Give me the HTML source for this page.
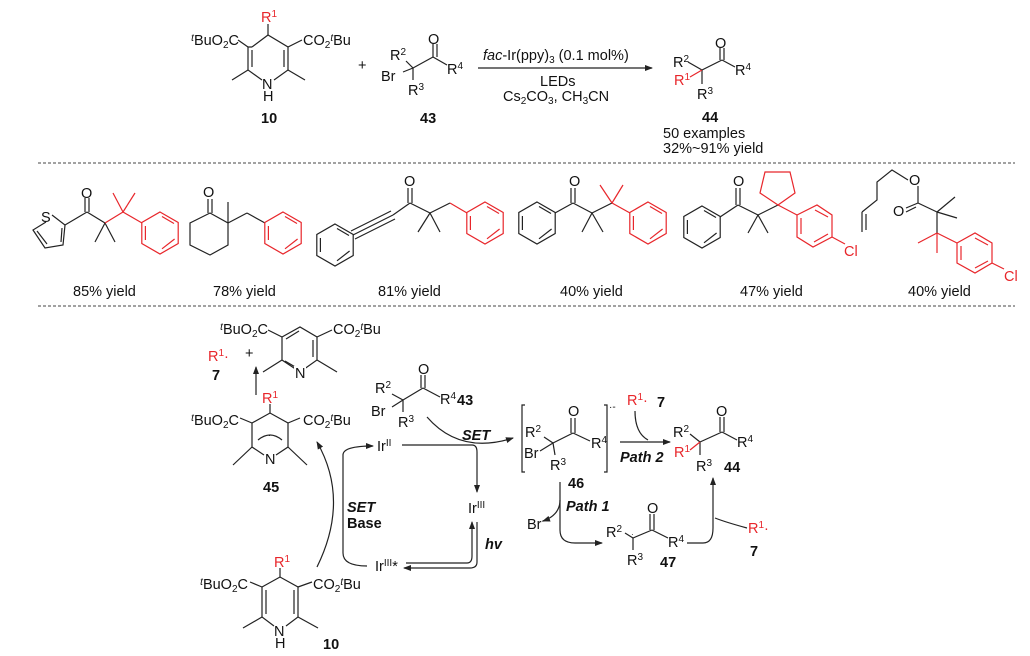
<!DOCTYPE html>
<html><head><meta charset="utf-8"><style>
html,body{margin:0;padding:0;background:#fff;}
svg{display:block;font-family:"Liberation Sans",sans-serif;}
text{font-size:14.5px;fill:#111;}
.r{fill:#e8262b;}
.b{font-weight:bold;}
.bi{font-weight:bold;font-style:italic;}
.k{stroke:#222;stroke-width:1.2;fill:none;}
.rd{stroke:#e8262b;stroke-width:1.2;fill:none;}
.s{font-size:10px;}
</style></head><body>
<svg width="1030" height="656" viewBox="0 0 1030 656">
<defs>
<marker id="ah" markerWidth="8" markerHeight="8" refX="7" refY="4" orient="auto" markerUnits="userSpaceOnUse"><path d="M0,1 L8,4 L0,7 z" fill="#222"/></marker>
<g id="bz"><polygon points="0,-21 18.2,-10.5 18.2,10.5 0,21 -18.2,10.5 -18.2,-10.5"/><line x1="2" y1="-16.5" x2="14" y2="-9.5"/><line x1="14.6" y1="6" x2="2" y2="15.8"/><line x1="-14.6" y1="7" x2="-14.6" y2="-7"/></g>
</defs>

<!-- ===== TOP REACTION ===== -->
<g class="k">
<polyline points="252,47 268,35 288,47 288,70 274,80"/>
<polyline points="252,47 248,47 248,70 262,80"/>
<line x1="284" y1="50" x2="284" y2="67"/><line x1="252" y1="50" x2="252" y2="67"/>
<line x1="268" y1="35" x2="268" y2="24"/>
<line x1="248" y1="70" x2="232" y2="80"/><line x1="288" y1="70" x2="305" y2="80"/>
<line x1="248" y1="47" x2="238" y2="40"/><line x1="288" y1="47" x2="302" y2="40"/>
</g>
<text x="239" y="45" text-anchor="end"><tspan class="s" dy="-4" font-style="italic">t</tspan><tspan dy="4">BuO</tspan><tspan class="s" dy="3">2</tspan><tspan dy="-3">C</tspan></text>
<text x="303" y="45">CO<tspan class="s" dy="3">2</tspan><tspan class="s" dy="-7" font-style="italic">t</tspan><tspan dy="4">Bu</tspan></text>
<text x="261" y="22" class="r">R<tspan class="s" dy="-5">1</tspan></text>
<text x="262" y="89">N</text><text x="263" y="101">H</text>
<text x="261" y="123" class="b">10</text>
<text x="358" y="70">+</text>
<g class="k"><line x1="403" y1="72" x2="413" y2="68"/><line x1="413" y1="68" x2="433" y2="57"/><line x1="433" y1="57" x2="447" y2="65"/><line x1="433" y1="57" x2="433" y2="44"/><line x1="437" y1="57" x2="437" y2="44"/><line x1="413" y1="68" x2="413" y2="80"/><line x1="406" y1="61" x2="413" y2="68"/></g>
<text x="428" y="44">O</text>
<text x="390" y="60">R<tspan class="s" dy="-5">2</tspan></text>
<text x="381" y="81">Br</text>
<text x="408" y="95">R<tspan class="s" dy="-5">3</tspan></text>
<text x="447" y="74">R<tspan class="s" dy="-5">4</tspan></text>
<text x="420" y="123" class="b">43</text>
<line x1="478" y1="68" x2="652" y2="68" class="k" marker-end="url(#ah)"/>
<text x="483" y="60"><tspan font-style="italic">fac</tspan>-Ir(ppy)<tspan class="s" dy="3">3</tspan><tspan dy="-3"> (0.1 mol%)</tspan></text>
<text x="540" y="86">LEDs</text>
<text x="503" y="101">Cs<tspan class="s" dy="3">2</tspan><tspan dy="-3">CO</tspan><tspan class="s" dy="3">3</tspan><tspan dy="-3">, CH</tspan><tspan class="s" dy="3">3</tspan><tspan dy="-3">CN</tspan></text>
<g class="k"><line x1="688" y1="62" x2="702" y2="70"/><line x1="702" y1="70" x2="722" y2="60"/><line x1="722" y1="60" x2="735" y2="67"/><line x1="720" y1="60" x2="720" y2="48"/><line x1="724" y1="60" x2="724" y2="48"/><line x1="702" y1="70" x2="702" y2="84"/></g>
<line x1="690" y1="77" x2="702" y2="70" class="rd"/>
<text x="715" y="48">O</text>
<text x="673" y="67">R<tspan class="s" dy="-5">2</tspan></text>
<text x="674" y="85" class="r">R<tspan class="s" dy="-5">1</tspan></text>
<text x="697" y="99">R<tspan class="s" dy="-5">3</tspan></text>
<text x="735" y="75">R<tspan class="s" dy="-5">4</tspan></text>
<text x="702" y="122" class="b">44</text>
<text x="663" y="138">50 examples</text>
<text x="663" y="153">32%~91% yield</text>

<line x1="38" y1="163" x2="1015" y2="163" stroke="#444" stroke-dasharray="3,2"/>
<line x1="38" y1="306" x2="1015" y2="306" stroke="#444" stroke-dasharray="3,2"/>

<!-- ===== EXAMPLES ===== -->
<g class="k"><polyline points="46,222 33,230 45,248 63,245 65,225 52,215"/><line x1="37" y1="231" x2="47" y2="244"/><line x1="61" y1="242" x2="62" y2="228"/><line x1="65" y1="225" x2="87" y2="212"/><line x1="87" y1="212" x2="105" y2="223"/><line x1="85" y1="212" x2="85" y2="198"/><line x1="89" y1="212" x2="89" y2="198"/><line x1="105" y1="223" x2="95" y2="242"/><line x1="105" y1="223" x2="115" y2="242"/></g>
<text x="41" y="222">S</text><text x="81" y="198">O</text>
<g class="rd"><line x1="105" y1="223" x2="123" y2="212"/><line x1="123" y1="212" x2="113" y2="193"/><line x1="123" y1="212" x2="135" y2="193"/><line x1="123" y1="212" x2="142" y2="223"/><use href="#bz" x="160" y="233"/></g>
<text x="73" y="296">85% yield</text>
<g class="k"><polygon points="210,213 228,223 228,245 210,255 190,245 190,223"/><line x1="208" y1="213" x2="208" y2="199"/><line x1="212" y1="213" x2="212" y2="199"/><line x1="228" y1="223" x2="228" y2="202"/><line x1="228" y1="223" x2="247" y2="213"/><line x1="247" y1="213" x2="265" y2="223"/></g>
<text x="203" y="197">O</text>
<g class="rd"><use href="#bz" x="283" y="233"/></g>
<text x="213" y="296">78% yield</text>
<g class="k"><use href="#bz" x="335" y="245"/><line x1="353" y1="235" x2="393" y2="215"/><line x1="351" y1="231" x2="391" y2="211"/><line x1="355" y1="239" x2="395" y2="219"/><line x1="393" y1="215" x2="410" y2="203"/><line x1="408" y1="203" x2="408" y2="188"/><line x1="412" y1="203" x2="412" y2="188"/><line x1="410" y1="203" x2="430" y2="213"/><line x1="430" y1="213" x2="418" y2="232"/><line x1="430" y1="213" x2="440" y2="232"/><line x1="430" y1="213" x2="450" y2="203"/></g>
<text x="404" y="186">O</text>
<g class="rd"><line x1="450" y1="203" x2="467" y2="213"/><use href="#bz" x="485" y="223"/></g>
<text x="378" y="296">81% yield</text>
<g class="k"><use href="#bz" x="537" y="223"/><line x1="555" y1="213" x2="573" y2="203"/><line x1="571" y1="203" x2="571" y2="188"/><line x1="575" y1="203" x2="575" y2="188"/><line x1="573" y1="203" x2="592" y2="213"/><line x1="592" y1="213" x2="582" y2="232"/><line x1="592" y1="213" x2="603" y2="232"/><line x1="592" y1="213" x2="612" y2="203"/></g>
<text x="569" y="186">O</text>
<g class="rd"><line x1="612" y1="203" x2="600" y2="185"/><line x1="612" y1="203" x2="623" y2="185"/><line x1="612" y1="203" x2="630" y2="213"/><use href="#bz" x="648" y="223"/></g>
<text x="560" y="296">40% yield</text>
<g class="k"><use href="#bz" x="702" y="227"/><line x1="720" y1="217" x2="738" y2="205"/><line x1="736" y1="205" x2="736" y2="188"/><line x1="740" y1="205" x2="740" y2="188"/><line x1="738" y1="205" x2="758" y2="215"/><line x1="758" y1="215" x2="748" y2="233"/><line x1="758" y1="215" x2="768" y2="233"/><line x1="758" y1="215" x2="778" y2="205"/></g>
<text x="733" y="186">O</text>
<g class="rd"><polygon points="778,205 760,193 765,172 790,172 795,193"/><line x1="778" y1="205" x2="797" y2="215"/><polygon points="797,215 817,205 832,215 832,237 813,247 797,237"/><line x1="815" y1="210" x2="828" y2="217"/><line x1="828" y1="234" x2="814" y2="242"/><line x1="801" y1="234" x2="801" y2="218"/><line x1="832" y1="237" x2="845" y2="244"/></g>
<text x="844" y="256" class="r">Cl</text>
<text x="740" y="296">47% yield</text>
<g class="k"><line x1="862" y1="232" x2="862" y2="212"/><line x1="866" y1="230" x2="866" y2="214"/><polyline points="862,212 877,200 877,182 892,170 908,180"/><line x1="918" y1="186" x2="918" y2="203"/><line x1="918" y1="203" x2="906" y2="208"/><line x1="916" y1="207" x2="906" y2="212"/><line x1="918" y1="203" x2="937" y2="212"/><line x1="937" y1="212" x2="955" y2="197"/><line x1="937" y1="212" x2="957" y2="218"/><line x1="937" y1="212" x2="937" y2="233"/></g>
<text x="909" y="185">O</text><text x="893" y="216">O</text>
<g class="rd"><line x1="937" y1="233" x2="918" y2="243"/><line x1="937" y1="233" x2="937" y2="253"/><line x1="937" y1="233" x2="957" y2="243"/><polygon points="957,243 975,233 992,243 992,263 975,273 957,263"/><line x1="975" y1="238" x2="988" y2="245"/><line x1="988" y1="261" x2="975" y2="268"/><line x1="961" y1="260" x2="961" y2="246"/><line x1="992" y1="263" x2="1004" y2="269"/></g>
<text x="1004" y="281" class="r">Cl</text>
<text x="908" y="296">40% yield</text>

<!-- ===== MECHANISM ===== -->
<g class="k"><polygon points="282,337 300,327 317,337 317,360 300,372 282,360"/><line x1="286" y1="339" x2="299" y2="331"/><line x1="313" y1="340" x2="313" y2="357"/><line x1="285" y1="361" x2="297" y2="368"/><line x1="282" y1="360" x2="263" y2="372"/><line x1="317" y1="360" x2="337" y2="372"/><line x1="282" y1="337" x2="268" y2="330"/><line x1="317" y1="337" x2="332" y2="330"/></g>
<rect x="294" y="366" width="12" height="12" fill="#fff"/>
<text x="295" y="378">N</text>
<text x="268" y="334" text-anchor="end"><tspan class="s" dy="-4" font-style="italic">t</tspan><tspan dy="4">BuO</tspan><tspan class="s" dy="3">2</tspan><tspan dy="-3">C</tspan></text>
<text x="333" y="334">CO<tspan class="s" dy="3">2</tspan><tspan class="s" dy="-7" font-style="italic">t</tspan><tspan dy="4">Bu</tspan></text>
<text x="208" y="361" class="r">R<tspan class="s" dy="-5">1</tspan><tspan dy="5">·</tspan></text>
<text x="245" y="358">+</text>
<text x="212" y="380" class="b">7</text>
<line x1="256" y1="395" x2="256" y2="367" class="k" marker-end="url(#ah)"/>
<g class="k"><polyline points="252,423 270,413 288,423 288,447 276,455"/><polyline points="252,423 252,447 264,455"/><path d="M258,440 Q270,430 282,440"/><line x1="270" y1="413" x2="270" y2="404"/><line x1="252" y1="447" x2="233" y2="465"/><line x1="288" y1="447" x2="307" y2="465"/><line x1="252" y1="423" x2="240" y2="418"/><line x1="288" y1="423" x2="300" y2="418"/></g>
<text x="268" y="438" style="font-size:9px">·</text>
<text x="265" y="464">N</text>
<text x="262" y="403" class="r">R<tspan class="s" dy="-5">1</tspan></text>
<text x="239" y="425" text-anchor="end"><tspan class="s" dy="-4" font-style="italic">t</tspan><tspan dy="4">BuO</tspan><tspan class="s" dy="3">2</tspan><tspan dy="-3">C</tspan></text>
<text x="303" y="425">CO<tspan class="s" dy="3">2</tspan><tspan class="s" dy="-7" font-style="italic">t</tspan><tspan dy="4">Bu</tspan></text>
<text x="263" y="492" class="b">45</text>
<g class="k"><polyline points="262,587 280,577 298,587 298,617 286,626"/><polyline points="262,587 262,617 274,626"/><line x1="266" y1="590" x2="266" y2="614"/><line x1="294" y1="590" x2="294" y2="614"/><line x1="280" y1="577" x2="280" y2="568"/><line x1="262" y1="617" x2="243" y2="628"/><line x1="298" y1="617" x2="318" y2="628"/><line x1="262" y1="587" x2="250" y2="582"/><line x1="298" y1="587" x2="312" y2="582"/></g>
<text x="274" y="567" class="r">R<tspan class="s" dy="-5">1</tspan></text>
<text x="274" y="636">N</text><text x="275" y="648">H</text>
<text x="248" y="589" text-anchor="end"><tspan class="s" dy="-4" font-style="italic">t</tspan><tspan dy="4">BuO</tspan><tspan class="s" dy="3">2</tspan><tspan dy="-3">C</tspan></text>
<text x="313" y="589">CO<tspan class="s" dy="3">2</tspan><tspan class="s" dy="-7" font-style="italic">t</tspan><tspan dy="4">Bu</tspan></text>
<text x="323" y="649" class="b">10</text>
<path d="M317,567 Q350,500 317,442" class="k" marker-end="url(#ah)"/>
<path d="M367,566 Q343,566 343,553 L343,455 Q343,446 373,446" class="k" stroke-width="2" marker-end="url(#ah)"/>
<text x="347" y="512" class="bi">SET</text>
<text x="347" y="528" class="b">Base</text>
<text x="377" y="451">Ir<tspan class="s" dy="-5">II</tspan></text>
<path d="M402,445 L472,445 Q477,445 477,452 L477,492" class="k" marker-end="url(#ah)"/>
<text x="468" y="513">Ir<tspan class="s" dy="-5">III</tspan></text>
<text x="485" y="549" class="bi">hv</text>
<text x="375" y="571">Ir<tspan class="s" dy="-5">III</tspan><tspan dy="5">*</tspan></text>
<path d="M406,563 L467,563 Q472,563 472,556 L472,522" class="k" marker-end="url(#ah)"/>
<path d="M477,522 L477,562 Q477,568 470,568 L404,568" class="k" marker-end="url(#ah)"/>
<g class="k"><line x1="392" y1="394" x2="403" y2="400"/><line x1="392" y1="407" x2="403" y2="400"/><line x1="403" y1="400" x2="403" y2="412"/><line x1="403" y1="400" x2="423" y2="388"/><line x1="421" y1="388" x2="421" y2="375"/><line x1="425" y1="388" x2="425" y2="375"/><line x1="423" y1="388" x2="440" y2="397"/></g>
<text x="418" y="374">O</text>
<text x="375" y="393">R<tspan class="s" dy="-5">2</tspan></text>
<text x="371" y="416">Br</text>
<text x="398" y="427">R<tspan class="s" dy="-5">3</tspan></text>
<text x="440" y="404">R<tspan class="s" dy="-5">4</tspan></text>
<text x="457" y="405" class="b">43</text>
<path d="M427,417 Q460,455 513,438" class="k" marker-end="url(#ah)"/>
<text x="462" y="440" class="bi">SET</text>
<g class="k"><polyline points="525,405 522,405 522,472 525,472"/><polyline points="604,405 607,405 607,472 604,472"/><line x1="544" y1="437" x2="553" y2="443"/><line x1="540" y1="451" x2="553" y2="443"/><line x1="553" y1="443" x2="555" y2="455"/><line x1="553" y1="443" x2="573" y2="433"/><line x1="571" y1="433" x2="571" y2="418"/><line x1="575" y1="433" x2="575" y2="418"/><line x1="573" y1="433" x2="590" y2="441"/></g>
<text x="568" y="416">O</text>
<text x="525" y="437">R<tspan class="s" dy="-5">2</tspan></text>
<text x="524" y="458">Br</text>
<text x="550" y="470">R<tspan class="s" dy="-5">3</tspan></text>
<text x="591" y="448">R<tspan class="s" dy="-5">4</tspan></text>
<text x="609" y="410" style="font-size:10px">·-</text>
<text x="627" y="405" class="r">R<tspan class="s" dy="-5">1</tspan><tspan dy="5">·</tspan></text>
<text x="657" y="407" class="b">7</text>
<text x="568" y="488" class="b">46</text>
<line x1="620" y1="442" x2="670" y2="442" class="k" marker-end="url(#ah)"/>
<path d="M635,411 Q635,433 648,440" class="k"/>
<text x="620" y="462" class="bi">Path 2</text>
<g class="k"><line x1="690" y1="434" x2="700" y2="442"/><line x1="700" y1="442" x2="722" y2="432"/><line x1="720" y1="432" x2="720" y2="417"/><line x1="724" y1="432" x2="724" y2="417"/><line x1="722" y1="432" x2="737" y2="440"/><line x1="700" y1="442" x2="700" y2="455"/></g>
<line x1="690" y1="450" x2="700" y2="442" class="rd"/>
<text x="716" y="416">O</text>
<text x="673" y="437">R<tspan class="s" dy="-5">2</tspan></text>
<text x="674" y="457" class="r">R<tspan class="s" dy="-5">1</tspan></text>
<text x="696" y="471">R<tspan class="s" dy="-5">3</tspan></text>
<text x="737" y="447">R<tspan class="s" dy="-5">4</tspan></text>
<text x="724" y="472" class="b">44</text>
<path d="M560,482 L560,530 Q560,543 575,543 L602,543" class="k" marker-end="url(#ah)"/>
<path d="M560,500 Q560,515 543,521" class="k" marker-end="url(#ah)"/>
<text x="527" y="529">Br<tspan class="s" dy="-5">-</tspan></text>
<text x="566" y="511" class="bi">Path 1</text>
<g class="k"><line x1="625" y1="533" x2="633" y2="538"/><line x1="633" y1="538" x2="652" y2="530"/><line x1="650" y1="530" x2="650" y2="514"/><line x1="654" y1="530" x2="654" y2="514"/><line x1="652" y1="530" x2="668" y2="538"/><line x1="633" y1="538" x2="633" y2="550"/></g>
<text x="631" y="537" style="font-size:8px">·</text>
<text x="647" y="513">O</text>
<text x="606" y="537">R<tspan class="s" dy="-5">2</tspan></text>
<text x="627" y="565">R<tspan class="s" dy="-5">3</tspan></text>
<text x="668" y="547">R<tspan class="s" dy="-5">4</tspan></text>
<text x="660" y="567" class="b">47</text>
<path d="M687,543 L703,543 Q713,543 713,528 L713,478" class="k" marker-end="url(#ah)"/>
<path d="M747,528 Q725,522 715,518" class="k"/>
<text x="748" y="533" class="r">R<tspan class="s" dy="-5">1</tspan><tspan dy="5">·</tspan></text>
<text x="750" y="556" class="b">7</text>
</svg>
</body></html>
